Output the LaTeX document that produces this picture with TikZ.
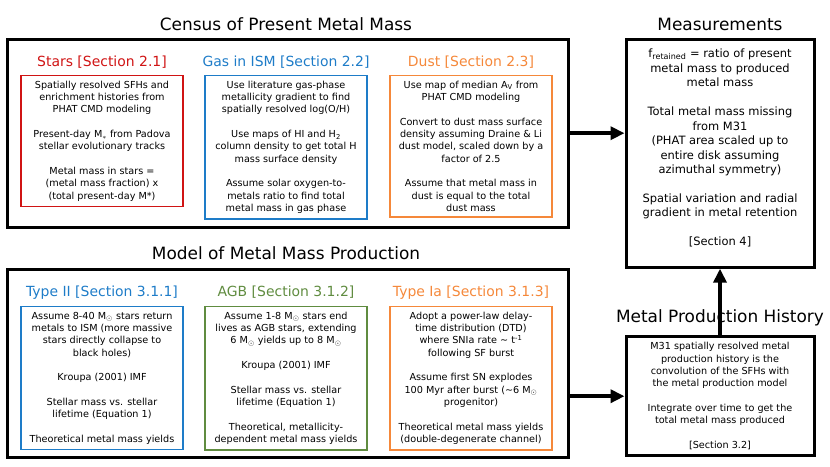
\documentclass[tikz,border=0pt]{standalone}
\usepackage{fontspec}
\setmainfont{DejaVu Sans}
\usetikzlibrary{positioning, arrows.meta}
\definecolor{starsred}{RGB}{208,20,20}
\definecolor{gasblue}{RGB}{30,124,200}
\definecolor{dustorange}{RGB}{245,136,58}
\definecolor{agbgreen}{RGB}{96,140,64}
\newcommand{\msun}{M$_\odot$}
\newcommand{\gap}{\\[\baselineskip]}

\begin{document}
\begin{tikzpicture}[x=1bp, y=-1bp,
  bigbox/.style={draw=black, line width=3bp, minimum width=561bp,
                 minimum height=188bp, anchor=north west, inner sep=0pt},
  outbox/.style={draw=black, line width=3bp, minimum width=188bp,
                 anchor=north, align=center},
  itembox/.style={line width=1.5bp, minimum width=162bp, anchor=north,
                  align=center, inner xsep=3bp, inner ysep=5.5bp,
                  font=\fontsize{9.7}{12.35}\selectfont},
  head/.style={font=\fontsize{14}{16}\selectfont},
  title/.style={font=\fontsize{17}{20}\selectfont},
  arr/.style={-{Triangle[length=14bp, width=13bp]}, line width=4.5bp},
]
  \useasboundingbox (0,0) rectangle (830,467);

  % census of present metal mass
  \node[bigbox] (census) at (6,37.7) {};
  \node[title] (censustitle) at (286,24) {Census of Present Metal Mass};

  \node[head, text=starsred] (starshead) at (102,62) {Stars [Section 2.1]};
  \node[itembox, draw=starsred] (stars) at (102,74.7)
    {Spatially resolved SFHs and\\ enrichment histories from\\ PHAT CMD modeling\gap
     Present-day M$_*$ from Padova\\ stellar evolutionary tracks\gap
     Metal mass in stars =\\ (metal mass fraction) x\\ (total present-day M*)};

  \node[head, text=gasblue] (gashead) at (286,62) {Gas in ISM [Section 2.2]};
  \node[itembox, draw=gasblue] (gas) at (286,74.7)
    {Use literature gas-phase\\ metallicity gradient to find\\ spatially resolved log(O/H)\gap
     Use maps of HI and H\textsubscript{2}\\ column density to get total H\\ mass surface density\gap
     Assume solar oxygen-to-\\ metals ratio to find total\\ metal mass in gas phase};

  \node[head, text=dustorange] (dusthead) at (471,62) {Dust [Section 2.3]};
  \node[itembox, draw=dustorange] (dust) at (471,74.7)
    {Use map of median A\textsubscript{V} from\\ PHAT CMD modeling\gap
     Convert to dust mass surface\\ density assuming Draine \& Li\\ dust model, scaled down by a\\ factor of 2.5\gap
     Assume that metal mass in\\ dust is equal to the total\\ dust mass};

  % model of metal mass production
  \node[bigbox] (model) at (6,267.7) {};
  \node[title] (modeltitle) at (286,253) {Model of Metal Mass Production};

  \node[head, text=gasblue] (typetwohead) at (102,292.3) {Type II [Section 3.1.1]};
  \node[itembox, draw=gasblue] (typetwo) at (102,305.7)
    {Assume 8-40 \msun{} stars return\\ metals to ISM (more massive\\ stars directly collapse to\\ black holes)\gap
     Kroupa (2001) IMF\gap
     Stellar mass vs. stellar\\ lifetime (Equation 1)\gap
     Theoretical metal mass yields};

  \node[head, text=agbgreen] (agbhead) at (286,292.3) {AGB [Section 3.1.2]};
  \node[itembox, draw=agbgreen] (agb) at (286,305.7)
    {Assume 1-8 \msun{} stars end\\ lives as AGB stars, extending\\ 6 \msun{} yields up to 8 \msun\gap
     Kroupa (2001) IMF\gap
     Stellar mass vs. stellar\\ lifetime (Equation 1)\gap
     Theoretical, metallicity-\\ dependent metal mass yields};

  \node[head, text=dustorange] (typeiahead) at (471,292.3) {Type Ia [Section 3.1.3]};
  \node[itembox, draw=dustorange] (typeia) at (471,305.7)
    {Adopt a power-law delay-\\ time distribution (DTD)\\ where SNIa rate \textasciitilde{} t\textsuperscript{-1}\\ following SF burst\gap
     Assume first SN explodes\\ 100 Myr after burst (\textasciitilde6 \msun\\ progenitor)\gap
     Theoretical metal mass yields\\ (double-degenerate channel)};

  % measurements and production history
  \node[title] (measuretitle) at (720,24) {Measurements};
  \node[outbox, minimum height=228bp, inner sep=0pt] (measure) at (720,37.7) {};
  \node[anchor=north, align=center, font=\fontsize{11.5}{14.5}\selectfont,
        below=8bp of measure.north] (measuretext)
    {f\textsubscript{retained} = ratio of present\\ metal mass to produced\\ metal mass\gap
     Total metal mass missing\\ from M31\\ (PHAT area scaled up to\\ entire disk assuming\\ azimuthal symmetry)\gap
     Spatial variation and radial\\ gradient in metal retention\gap
     [Section 4]};

  \node[title] (mphtitle) at (720,318) {Metal Production History};
  \node[outbox, inner xsep=3bp, inner ysep=6bp,
        font=\fontsize{9.7}{12.4}\selectfont] (mph) at (720,335)
    {M31 spatially resolved metal\\ production history is the\\ convolution of the SFHs with\\ the metal production model\gap
     Integrate over time to get the\\ total metal mass produced\gap
     [Section 3.2]};

  \draw[arr] (census.east) -- (census.east -| measure.west);
  \draw[arr] (mph.west -| model.east) -- (mph.west);
  \draw[arr] (mph.north) -- (measure.south);
\end{tikzpicture}
\end{document}
